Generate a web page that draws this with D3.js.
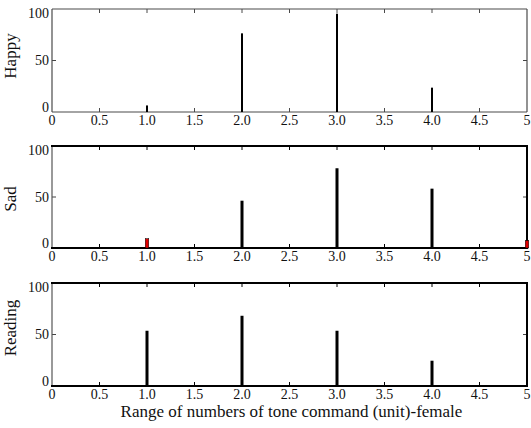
<!DOCTYPE html>
<html>
<head>
<meta charset="utf-8">
<script src="https://cdn.jsdelivr.net/npm/d3@7"></script>
<style>
  html, body { margin: 0; padding: 0; background: #fff; }
  svg { display: block; }
</style>
</head>
<body>
<svg id="chart" width="531" height="428"></svg>
<script>
// Tone-command counts per emotion (female speakers)
const categories = [1, 2, 3, 4, 5];
const happyValues = [2, 79, 100, 21, 0];
const sadMainValues = [0, 46, 81, 59, 0];
const sadLowValues = [5, 0, 0, 0, 3];
const readingValues = [54, 70, 54, 22, 0];

const xTickValues = [0, 0.5, 1, 1.5, 2, 2.5, 3, 3.5, 4, 4.5, 5];
const xTickLabels = ["0", "0.5", "1.0", "1.5", "2.0", "2.5", "3.0", "3.5", "4.0", "4.5", "5"];
const yTickValues = [0, 50, 100];
const yTickLabels = ["0", "50", "100"];
const panelTitles = ["Happy", "Sad", "Reading"];
const xAxisTitle = "Range of numbers of tone command (unit)-female";

const serif = "'Liberation Serif', 'Times New Roman', Times, serif";
const textColor = "#111";

const svg = d3.select("#chart");
const left = 52, right = 527;
const panels = [
  { title: panelTitles[0], top: 9, bottom: 112, series: [{ values: happyValues, color: "#000" }],
    barW: 2, frame: "#4a4a4a", frameW: 1.2, heavy: false, titleY: 56 },
  { title: panelTitles[1], top: 146, bottom: 248, series: [{ values: sadMainValues, color: "#000" }, { values: sadLowValues, color: "#e00000" }],
    barW: 3, frame: "#000", frameW: 2, heavy: true, titleY: 199 },
  { title: panelTitles[2], top: 283, bottom: 386, series: [{ values: readingValues, color: "#000" }],
    barW: 3, frame: "#000", frameW: 2, heavy: true, titleY: 328 }
];

const x = d3.scaleLinear().domain([0, 5]).range([left, right]);

panels.forEach(p => {
  const y = d3.scaleLinear().domain([-5, 105]).range([p.bottom, p.top]);
  const g = svg.append("g");

  // inward ticks on top and bottom edges
  const xt = xTickValues.filter(v => v > 0 && v < 5);
  g.selectAll(null).data(xt).enter().append("line")
    .attr("x1", d => x(d)).attr("x2", d => x(d))
    .attr("y1", p.bottom).attr("y2", p.bottom - 4)
    .attr("stroke", p.frame).attr("stroke-width", 1);
  g.selectAll(null).data(xt).enter().append("line")
    .attr("x1", d => x(d)).attr("x2", d => x(d))
    .attr("y1", p.top).attr("y2", p.top + 4)
    .attr("stroke", p.frame).attr("stroke-width", 1);
  // inward ticks at 50 on left and right edges
  [left, right].forEach((xx, k) => {
    g.append("line")
      .attr("x1", xx).attr("x2", xx + (k === 0 ? 4 : -4))
      .attr("y1", y(50)).attr("y2", y(50))
      .attr("stroke", "#444").attr("stroke-width", 1);
  });

  // frame
  const sideColor = p.heavy ? "#555" : p.frame;
  const sideW = p.heavy ? 1.2 : p.frameW;
  g.append("line").attr("x1", left).attr("x2", left).attr("y1", p.top).attr("y2", p.bottom)
    .attr("stroke", sideColor).attr("stroke-width", sideW);
  g.append("line").attr("x1", right).attr("x2", right).attr("y1", p.top).attr("y2", p.bottom)
    .attr("stroke", p.frame).attr("stroke-width", p.frameW);
  g.append("line").attr("x1", left - (p.heavy ? 1 : 0)).attr("x2", right + (p.heavy ? 1 : 0)).attr("y1", p.top).attr("y2", p.top)
    .attr("stroke", p.frame).attr("stroke-width", p.frameW);
  g.append("line").attr("x1", left - (p.heavy ? 1 : 0)).attr("x2", right + (p.heavy ? 1 : 0)).attr("y1", p.bottom).attr("y2", p.bottom)
    .attr("stroke", p.frame).attr("stroke-width", p.frameW);

  // bars rise from the bottom of the axes box, drawn over the frame
  p.series.forEach(s => {
    const w = s.color === "#000" ? p.barW : p.barW + 0.5;
    g.selectAll(null)
      .data(categories.map((c, i) => ({ c, v: s.values[i] })).filter(d => d.v > 0))
      .enter().append("rect")
      .attr("x", d => x(d.c) - w / 2)
      .attr("width", w)
      .attr("y", d => y(d.v))
      .attr("height", d => p.bottom - y(d.v))
      .attr("fill", s.color)
      .attr("stroke", s.color === "#000" ? "none" : "#000")
      .attr("stroke-width", 0.5);
  });

  // tick labels
  g.selectAll(null).data(xTickValues).enter().append("text")
    .attr("x", d => x(d)).attr("y", p.bottom + 13)
    .attr("text-anchor", "middle").attr("font-size", 14)
    .attr("font-family", serif).attr("fill", textColor)
    .text((d, i) => xTickLabels[i]);
  g.selectAll(null).data(yTickValues).enter().append("text")
    .attr("x", 49).attr("y", d => y(d) + 4.5)
    .attr("text-anchor", "end").attr("font-size", 14)
    .attr("font-family", serif).attr("fill", textColor)
    .text((d, i) => yTickLabels[i]);

  // panel title
  g.append("text")
    .attr("transform", `translate(16,${p.titleY}) rotate(-90)`)
    .attr("text-anchor", "middle").attr("font-size", 17)
    .attr("font-family", serif).attr("fill", textColor)
    .text(p.title);
});

svg.append("text")
  .attr("x", (left + right) / 2 + 2).attr("y", 417)
  .attr("text-anchor", "middle").attr("font-size", 17)
  .attr("font-family", serif).attr("fill", textColor)
  .text(xAxisTitle);
</script>
</body>
</html>
